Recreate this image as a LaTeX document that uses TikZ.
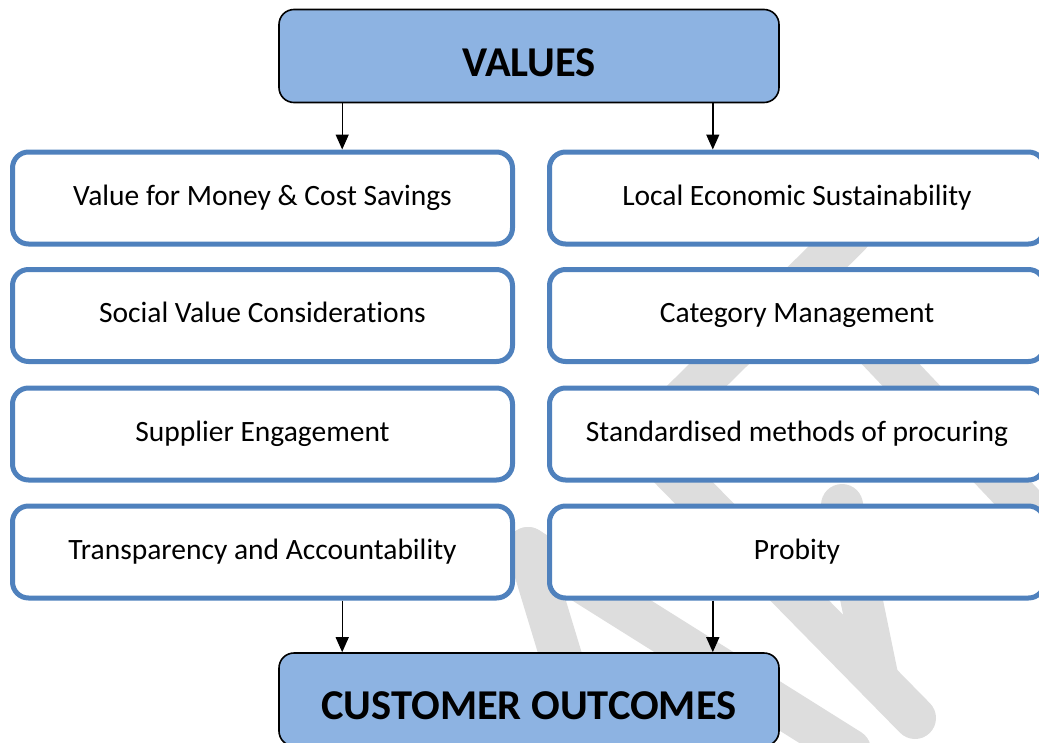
\documentclass[tikz,border=0pt]{standalone}
\usepackage{fontspec}
\setmainfont{Carlito}[Ligatures=NoCommon]
\usepackage{tikz}
\usetikzlibrary{arrows.meta,positioning,calc}

\definecolor{boxblue}{RGB}{79,129,189}
\definecolor{headblue}{RGB}{141,179,226}
\definecolor{wmgrey}{RGB}{221,221,221}

\begin{document}
\begin{tikzpicture}[x=1pt,y=-1pt,>={Triangle[length=15pt,width=13pt]},
    item/.style={draw=boxblue,line width=5pt,fill=white,rounded corners=16pt,
        minimum width=500pt,minimum height=92pt,inner sep=0pt,
        font=\fontsize{29.5}{34}\selectfont,text height=20pt,text depth=6pt},
    head/.style={draw=black,line width=1.6pt,fill=headblue,rounded corners=15pt,
        minimum width=500pt,minimum height=93pt,inner sep=0pt,
        font=\fontsize{42.5}{48}\selectfont\bfseries,text height=40pt,text depth=0pt},
    wm/.style={wmgrey,line width=42pt,line cap=round,line join=round},
    link/.style={->,line width=1.4pt}]

    \useasboundingbox (0,0) rectangle (1039,742);
    \clip (0,0) rectangle (1039,742);

    % faint watermark behind the boxes
    \draw[wm] (528,548) -- (562,660);
    \draw[wm] (528,548) -- (850,750);
    \draw[wm] (850,235) -- (642,440) -- (915,718);
    \draw[wm] (830,300) -- (1100,585);
    \draw[wm] (842,505) -- (878,680);

    \node[head] (values) at (529,56) {VALUES};

    \node[item] (vm) at (262.5,198) {Value for Money \& Cost Savings};
    \node[item] (sv) at (262.5,315.5) {Social Value Considerations};
    \node[item] (se) at (262.5,434) {Supplier Engagement};
    \node[item] (ta) at (262.5,552) {Transparency and Accountability};

    \node[item,minimum width=495pt] (le) at (797,198) {Local Economic Sustainability};
    \node[item,minimum width=495pt] (cm) at (797,315.5) {Category Management};
    \node[item,minimum width=495pt] (sm) at (797,434) {Standardised methods of procuring};
    \node[item,minimum width=495pt] (pb) at (797,552) {Probity};

    \node[head] (outcomes) at (529,699.5) {CUSTOMER OUTCOMES};

    \coordinate (vl) at ([xshift=64pt]values.south west);
    \coordinate (vr) at ([xshift=-67pt]values.south east);
    \coordinate (ol) at ([xshift=64pt]outcomes.north west);
    \coordinate (or) at ([xshift=-67pt]outcomes.north east);

    \draw[link] (vl) -- (vl |- vm.north);
    \draw[link] (vr) -- (vr |- le.north);
    \draw[link] (ol |- ta.south) -- (ol);
    \draw[link] (or |- pb.south) -- (or);

\end{tikzpicture}
\end{document}
